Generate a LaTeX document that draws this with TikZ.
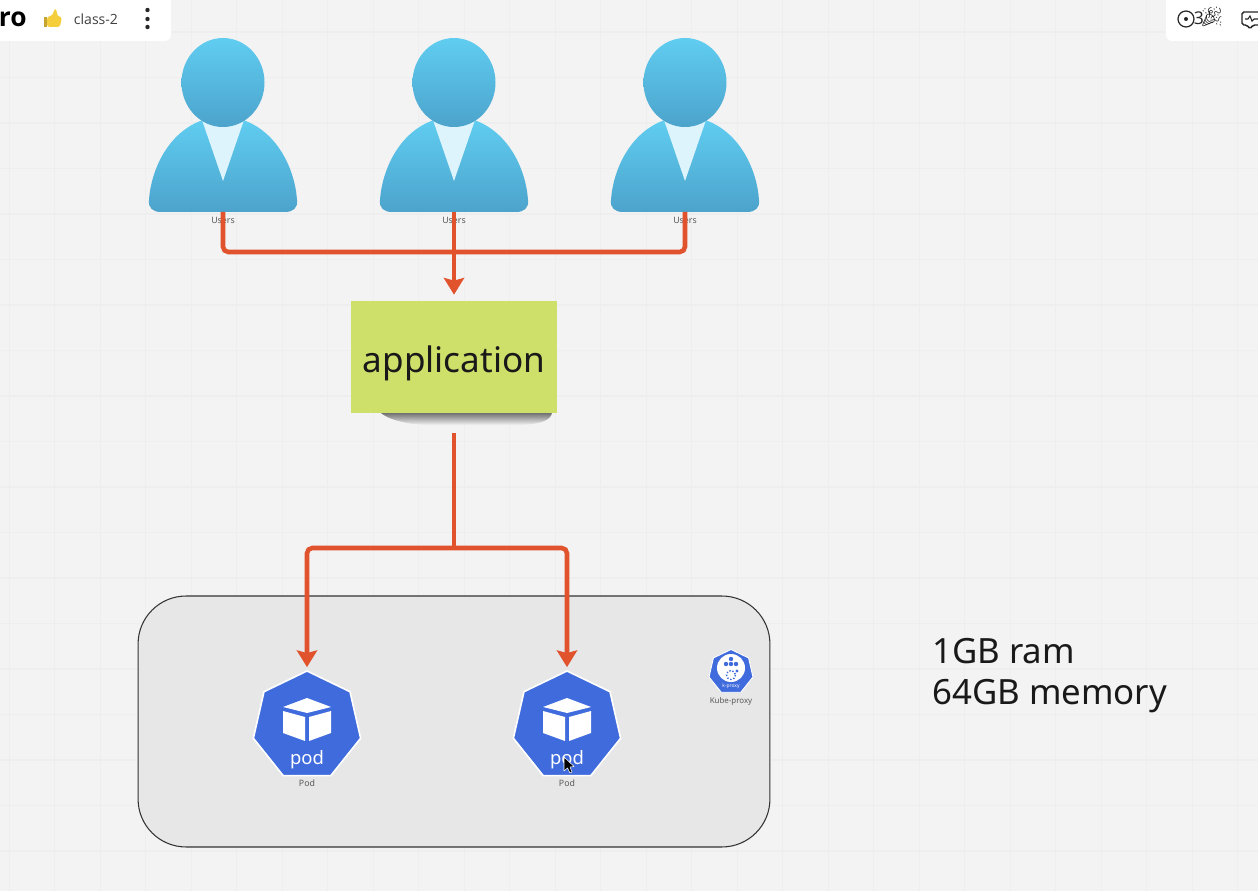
\documentclass[tikz,border=0pt]{standalone}
\usepackage{fontspec}
\setmainfont{Noto Sans}
\newfontfamily\emojifont{Noto Emoji}
\newfontfamily\uifont{Open Sans}
\usetikzlibrary{arrows.meta,shapes.geometric}
\definecolor{canvas}{HTML}{F3F3F3}
\definecolor{gridline}{HTML}{EEEEEE}
\definecolor{wirered}{HTML}{E0532D}
\definecolor{skytop}{HTML}{60CDF0}
\definecolor{skybot}{HTML}{4CA3CC}
\definecolor{collar}{HTML}{DDF4FD}
\definecolor{sticky}{HTML}{CEDF6A}
\definecolor{podblue}{HTML}{3F6BDD}
\definecolor{clusterfill}{HTML}{E7E7E7}
\definecolor{thumbyellow}{HTML}{F5CE3E}
\begin{document}
\begin{tikzpicture}
        [x=0.02cm,y=-0.02cm,
        %%%%%%%%%%%%%%%%%%%%%%%%%%%%%%
        skin/.style={top color=skytop,bottom color=skybot,draw=none},
        wire/.style={draw=wirered,line width=2.6pt,rounded corners=3pt},
        tip/.style={wire,-{Stealth[length=9.5pt,width=11.5pt,inset=1.5pt]},shorten >=0.12cm},
        caption/.style={font=\fontsize{5}{6}\selectfont,text=black!65,inner sep=0pt},
        pod/.style={regular polygon,regular polygon sides=7,fill=podblue,draw=white,
          line width=0.9pt,inner sep=0pt,minimum size=2.2cm},
        panel/.style={fill=white,draw=none,rounded corners=0.12cm},
        ]%%%%%%%%%%%%%%%%%%%%%%%%%%%%%%
        \clip (0,0) rectangle (1258,891);
        \fill[canvas] (0,0) rectangle (1258,891);

        % board grid
        \foreach \i in {0,...,27}{
          \draw[gridline,line width=0.6pt] ({9.2+45.5*\i},0) -- ({9.2+45.5*\i},891);
        }
        \foreach \j in {0,...,19}{
          \draw[gridline,line width=0.6pt] (0,{32+45.5*\j}) -- (1258,{32+45.5*\j});
        }

        % top bars
        \fill[panel] (-20,-20) rectangle (171,41);
        \fill[panel] (1166,-20) rectangle (1280,41);
        \node[font=\uifont\bfseries\fontsize{15}{18}\selectfont,anchor=east,inner sep=0pt] (logo) at (27,19) {ro};
        \fill[thumbyellow,rounded corners=1.5pt] (47,17) -- (53,15) -- (54,9) -- (57,10) -- (57,16) -- (62,17) -- (60,27) -- (47,27) -- cycle;
        \fill[thumbyellow!80!black] (44,17) rectangle (47,27);
        \node[font=\uifont\fontsize{8}{10}\selectfont,text=black!75,inner sep=0pt] (board) at (96,19) {class-2};
        \foreach \y in {10,19,27}{
          \fill[black!85] (147.5,\y) circle [radius=2.2];
        }
        \draw[black!85,line width=0.7pt] (1186,19) circle [radius=8];
        \fill[black!85] (1186,19) circle [radius=2];
        \node[font=\uifont\fontsize{10}{12}\selectfont,text=black!85,inner sep=0pt] (count) at (1199,18) {3};
        \node[font=\emojifont\fontsize{11}{13}\selectfont,text=black!85,inner sep=0pt] (party) at (1212,17) {🎉};
        \draw[black!85,line width=0.8pt,rounded corners=1pt] (1258,12) -- (1242,12) -- (1242,25) -- (1247,25) -- (1250,29) -- (1253,25) -- (1258,25);
        \draw[black!85,line width=0.6pt] (1245,19) -- (1248,19) -- (1250,16) -- (1252,21) -- (1254,19) -- (1258,19);

        % users
        \foreach \n/\x in {1/223,2/454,3/685}{
          \begin{scope}[shift={(\x,0)}]
            \node[caption] (label\n) at (0,220) {Users};
            \path[skin] (-20,120) .. controls (-55,132) and (-72,170) .. (-74,200)
              .. controls (-75,208) and (-70,212) .. (-62,212) -- (62,212)
              .. controls (70,212) and (75,208) .. (74,200)
              .. controls (72,170) and (55,132) .. (20,120) -- cycle;
            \fill[collar] (-21,120) -- (21,120) -- (0,181) -- cycle;
            \path[skin] (0,82.5) ellipse [x radius=41.5,y radius=44.5];
            \coordinate (foot\n) at (0,212);
          \end{scope}
        }

        % sticky note
        \path[top color=black!60,bottom color=canvas] (380,412) -- (552,412)
          .. controls (552,420) and (540,425) .. (515,425) -- (430,425)
          .. controls (405,425) and (385,418) .. (380,412) -- cycle;
        \node[fill=sticky,minimum width=4.12cm,minimum height=2.24cm,inner sep=0pt,
          font=\fontsize{20}{24}\selectfont,text=black!90,text depth=0pt] (app) at (454,357) {\raisebox{-2.2pt}{application}};

        % cluster
        \node[draw=black!80,fill=clusterfill,line width=0.6pt,rounded corners=0.96cm,
          minimum width=12.64cm,minimum height=5.02cm] (cluster) at (454,721.5) {};

        % pods
        \foreach \n/\x in {1/307,2/567}{
          \node[pod] (pod\n) at (\x,726) {};
          \node[caption] (podlabel\n) at (\x,783) {Pod};
          \node[font=\fontsize{10.5}{12}\selectfont,text=white,inner sep=0pt] (podtext\n) at (\x,760) {pod};
          \begin{scope}[shift={(\x,0)}]
            \fill[white] (0,698) -- (24,707) -- (0,713) -- (-24,707) -- cycle;
            \fill[white] (-24,711) -- (-2,717) -- (-2,741) -- (-24,733) -- cycle;
            \fill[white] (24,711) -- (2,717) -- (2,741) -- (24,733) -- cycle;
          \end{scope}
        }

        % kube-proxy
        \node[pod,minimum size=0.9cm,line width=0.5pt] (proxy) at (731,672) {};
        \fill[white] (731,668) circle [radius=14];
        \foreach \px/\py in {731/659,726/664,731/664,736/664}{
          \fill[podblue] (\px,\py) circle [radius=2.2];
        }
        \draw[podblue,line width=0.8pt,densely dotted] (731,675) circle [radius=4.5];
        \fill[podblue] (737,671) circle [radius=1.6];
        \node[font=\fontsize{2.8}{3}\selectfont,text=white,inner sep=0pt] (proxytext) at (731,686) {k-proxy};
        \node[caption,font=\fontsize{4.5}{6}\selectfont] (proxylabel) at (731,701) {Kube-proxy};

        % connectors
        \coordinate (joinup) at (454,252);
        \coordinate (joindown) at (454,548);
        \draw[wire] (foot1) |- (joinup);
        \draw[wire] (foot3) |- (joinup);
        \draw[tip] (foot2) -- (app.north);
        \draw[wire,shorten <=0.4cm] (app.south) -- (joindown);
        \draw[tip,shorten >=0.06cm] (joindown) -| (pod1.north);
        \draw[tip,shorten >=0.06cm] (joindown) -| (pod2.north);

        % note on the right
        \node[anchor=west,align=left,inner sep=0pt,text=black!90,
          font=\fontsize{19.8}{23.3}\selectfont] (specs) at (932,676) {1GB ram\\64GB memory};

        % mouse pointer
        \draw[white,fill=black,line width=0.3pt,line join=round] (564,757) -- (564,771) -- (567.5,768) -- (570,773) -- (572,772) -- (570,767) -- (574,766.5) -- cycle;

      \end{tikzpicture}
\end{document}
